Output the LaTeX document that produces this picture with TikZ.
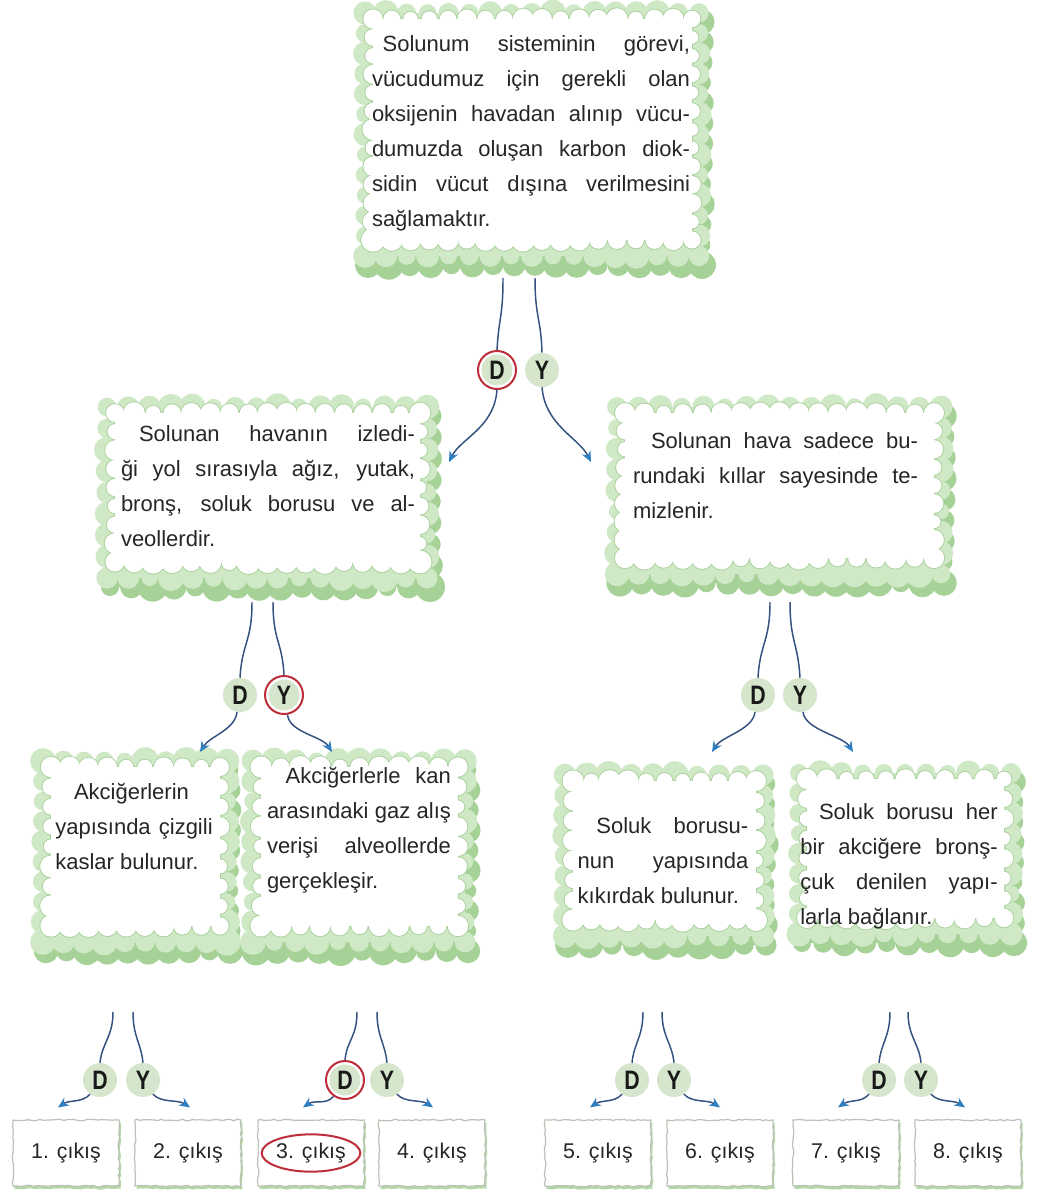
\documentclass[tikz,border=0pt]{standalone}
\usepackage{fontspec}
\setmainfont{Liberation Sans}
\newfontfamily\dyfont{Liberation Sans}[FakeStretch=0.8]
\usetikzlibrary{arrows.meta,calc,decorations.pathmorphing,shadows}
\setlength{\parindent}{0pt}
\definecolor{cgreen}{HTML}{A6D297}
\definecolor{clight}{HTML}{CFE8C5}
\definecolor{cline}{HTML}{A9D09B}
\definecolor{dyfill}{HTML}{D5E6CC}
\definecolor{ringred}{HTML}{BE2E3A}
\definecolor{conn}{HTML}{33507F}
\definecolor{tipblue}{HTML}{2E7EC2}
\definecolor{txtc}{HTML}{262626}
\definecolor{boxline}{HTML}{B9C2B5}

\newlength\tw
\newcommand\Js[1]{\makebox[\tw][s]{#1}}
\newcommand\Jl[1]{\makebox[\tw][l]{#1}}
\newcommand\setw[1]{\global\tw=#1\relax}

% white scalloped inner region, drawn with given path options
\newcommand\wbumps[1]{%
  \pgfmathsetseed{\cseed}%
  \path[#1] (\cwA,\cwB) rectangle (\cwC,\cwD);
  \pgfmathtruncatemacro\cmx{max(2,round((\cwC-\cwA)/19))}%
  \pgfmathtruncatemacro\cmy{max(2,round((\cwD-\cwB)/19))}%
  \foreach \i in {0,...,\cmx}{%
    \pgfmathsetmacro\cxx{\cwA+\i*(\cwC-\cwA)/\cmx}%
    \pgfmathsetmacro\crr{0.75*(7+4*rnd)}%
    \pgfmathsetmacro\crs{0.75*(8+4*rnd)}%
    \path[#1] (\cxx,\cwB) circle[radius=\crr pt] (\cxx,\cwD) circle[radius=\crs pt];
  }
  \foreach \i in {0,...,\cmy}{%
    \pgfmathsetmacro\cyy{\cwB+\i*(\cwD-\cwB)/\cmy}%
    \pgfmathsetmacro\crr{0.75*(7+4*rnd)}%
    \pgfmathsetmacro\crs{0.75*(6+4*rnd)}%
    \path[#1] (\cwA,\cyy) circle[radius=\crr pt] (\cwC,\cyy) circle[radius=\crs pt];
  }
}

% puffy cloud frame in box x1 y1 x2 y2 (pixel units, y down), seed #5
\newcommand\puff[5]{%
  \def\cseed{#5}%
  \pgfmathsetmacro\clA{#1+9}\pgfmathsetmacro\clB{#2+9}%
  \pgfmathsetmacro\clC{#3-9}\pgfmathsetmacro\clD{#4-20}%
  \pgfmathsetmacro\cwA{#1+17}\pgfmathsetmacro\cwB{#2+15}%
  \pgfmathsetmacro\cwC{#3-16}\pgfmathsetmacro\cwD{#4-36}%
  \pgfmathtruncatemacro\cnx{max(2,round((\clC-\clA)/21))}%
  \pgfmathtruncatemacro\cny{max(2,round((\clD-\clB)/21))}%
  \pgfmathsetseed{#5}%
  % darker lower/right band
  \fill[cgreen] (\clA+3,\clB+9) rectangle (\clC+3,\clD+9);
  \foreach \i in {0,...,\cnx}{%
    \pgfmathsetmacro\cxx{\clA+\i*(\clC-\clA)/\cnx}%
    \pgfmathsetmacro\crr{0.75*(9+6*rnd)}%
    \fill[cgreen] (\cxx+3,\clD+9) circle[radius=\crr pt];
  }
  \foreach \i in {0,...,\cny}{%
    \pgfmathsetmacro\cyy{\clB+\i*(\clD-\clB)/\cny}%
    \pgfmathsetmacro\crr{0.75*(8+5*rnd)}%
    \fill[cgreen] (\clC+3,\cyy+9) circle[radius=\crr pt];
  }
  % light band
  \fill[clight] (\clA,\clB) rectangle (\clC,\clD);
  \foreach \i in {0,...,\cnx}{%
    \pgfmathsetmacro\cxx{\clA+\i*(\clC-\clA)/\cnx}%
    \pgfmathsetmacro\crr{0.75*(8+6*rnd)}%
    \pgfmathsetmacro\crs{0.75*(8+6*rnd)}%
    \fill[clight] (\cxx,\clB) circle[radius=\crr pt] (\cxx,\clD) circle[radius=\crs pt];
  }
  \foreach \i in {0,...,\cny}{%
    \pgfmathsetmacro\cyy{\clB+\i*(\clD-\clB)/\cny}%
    \pgfmathsetmacro\crr{0.75*(8+5*rnd)}%
    \pgfmathsetmacro\crs{0.75*(8+5*rnd)}%
    \fill[clight] (\clA,\cyy) circle[radius=\crr pt] (\clC,\cyy) circle[radius=\crs pt];
  }
  % white inside with scalloped outline
  \wbumps{draw=cline,line width=1.3pt}
  \wbumps{fill=white}
}

\tikzset{
  cloudn/.style={inner sep=0pt, outer sep=0pt},
  txt/.style={inner sep=0pt, align=left, text=txtc,
    font=\fontsize{16.5}{26.25}\selectfont},
  dy/.style={circle, fill=dyfill, inner sep=0pt, minimum size=25.5pt,
    text=black!90, font=\dyfont\fontsize{20}{20}\selectfont\bfseries},
  chosen/.style={fill=white, draw=ringred, line width=1.5pt, minimum size=28.5pt,
    path picture={\fill[dyfill] (path picture bounding box.center) circle[radius=11.6pt];}},
  vline/.style={draw=conn, line width=1.1pt},
  arr/.style={draw=conn, line width=1.1pt,
    -{Stealth[length=8pt,width=7pt,color=tipblue]}},
  exitbox/.style={draw=boxline, line width=0.9pt, fill=white, inner sep=0pt,
    minimum width=79.5pt, minimum height=49.5pt, text=txtc,
    font=\fontsize{16}{18}\selectfont,
    decorate, decoration={random steps, segment length=2.6pt, amplitude=0.55pt},
    drop shadow={shadow xshift=1.2pt, shadow yshift=-2.2pt, fill=cgreen, opacity=0.85}},
}

\begin{document}
\pgfmathsetseed{7}
\begin{tikzpicture}[x=0.75pt, y=-0.75pt]
\useasboundingbox (0,0) rectangle (1036,1194);
\fill[white] (0,0) rectangle (1036,1194);

% ---------- cloud frames ----------
\puff{356}{4}{708}{276}{11}
\puff{98}{398}{436}{598}{23}
\puff{608}{398}{950}{594}{37}
\puff{34}{752}{236}{962}{41}
\puff{244}{752}{474}{962}{53}
\puff{556}{766}{772}{956}{67}
\puff{790}{764}{1020}{954}{79}
\pgfmathsetseed{7}

% ---------- cloud nodes ----------
\node[cloudn, minimum width=264pt, minimum height=204pt] (top) at (532,140) {};
\node[cloudn, minimum width=253.5pt, minimum height=150pt] (L) at (267,498) {};
\node[cloudn, minimum width=256.5pt, minimum height=147pt] (R) at (779,496) {};
\node[cloudn, minimum width=151.5pt, minimum height=157.5pt] (C1) at (135,857) {};
\node[cloudn, minimum width=172.5pt, minimum height=157.5pt] (C2) at (359,857) {};
\node[cloudn, minimum width=162pt, minimum height=142.5pt] (C3) at (664,861) {};
\node[cloudn, minimum width=172.5pt, minimum height=142.5pt] (C4) at (905,859) {};

% ---------- texts ----------
\node[txt] (ttop) at (531,133) {\setw{238.5pt}%
\Js{\hspace*{8pt}Solunum sisteminin görevi,}\\
\Js{vücudumuz için gerekli olan}\\
\Js{oksijenin havadan alınıp vücu-}\\
\Js{dumuzda oluşan karbon diok-}\\
\Js{sidin vücut dışına verilmesini}\\
\Jl{sağlamaktır.}};

\node[txt] (tL) at (268,486) {\setw{220.5pt}%
\Js{\hspace*{13.5pt}Solunan havanın izledi-}\\
\Js{ği yol sırasıyla ağız, yutak,}\\
\Js{bronş, soluk borusu ve al-}\\
\Jl{veollerdir.}};

\node[txt] (tR) at (775.5,476) {\setw{213.75pt}%
\Js{\hspace*{13.5pt}Solunan hava sadece bu-}\\
\Js{rundaki kıllar sayesinde te-}\\
\Jl{mizlenir.}};

\node[txt] (tC1) at (134,826) {\setw{118pt}%
\Jl{\hspace*{14pt}Akciğerlerin}\\
\Js{yapısında çizgili}\\
\Jl{kaslar bulunur.}};

\node[txt] (tC2) at (359,830.5) {\setw{138pt}%
\Js{\hspace*{14pt}Akciğerlerle kan}\\
\Js{arasındaki gaz alış}\\
\Js{verişi alveollerde}\\
\Jl{gerçekleşir.}};

\node[txt] (tC3) at (663,861) {\setw{128pt}%
\Js{\hspace*{14pt}Soluk borusu-}\\
\Js{nun yapısında}\\
\Jl{kıkırdak bulunur.}};

\node[txt] (tC4) at (899,866) {\setw{148pt}%
\Js{\hspace*{14pt}Soluk borusu her}\\
\Js{bir akciğere bronş-}\\
\Js{çuk denilen yapı-}\\
\Jl{larla bağlanır.}};

% ---------- D / Y markers ----------
\node[dy, chosen] (d1) at (497,370) {D};
\node[dy] (y1) at (542,370) {Y};
\node[dy] (d2) at (240,695) {D};
\node[dy, chosen] (y2) at (284,695) {Y};
\node[dy] (d3) at (758,695) {D};
\node[dy] (y3) at (800,695) {Y};
\node[dy] (d4) at (100,1080) {D};
\node[dy] (y4) at (143,1080) {Y};
\node[dy, chosen] (d5) at (345,1080) {D};
\node[dy] (y5) at (387,1080) {Y};
\node[dy] (d6) at (632,1080) {D};
\node[dy] (y6) at (674,1080) {Y};
\node[dy] (d7) at (879,1080) {D};
\node[dy] (y7) at (921,1080) {Y};

% ---------- exit boxes ----------
\node[exitbox] (b1) at (66,1153) {1. çıkış};
\node[exitbox] (b2) at (188,1153) {2. çıkış};
\node[exitbox] (b3) at (311,1153) {3. çıkış};
\node[exitbox] (b4) at (432,1153) {4. çıkış};
\node[exitbox] (b5) at (598,1153) {5. çıkış};
\node[exitbox] (b6) at (720,1153) {6. çıkış};
\node[exitbox] (b7) at (846,1153) {7. çıkış};
\node[exitbox] (b8) at (968,1153) {8. çıkış};
\draw[ringred, line width=1.5pt] (b3.center) ellipse[x radius=37pt, y radius=14pt];

% ---------- arrow end points ----------
\coordinate (t1) at (449,462);
\coordinate (t2) at (591,462);
\coordinate (t3) at (200,752);
\coordinate (t4) at (332,752);
\coordinate (t5) at (712,752);
\coordinate (t6) at (853,752);

% ---------- connectors: level 1 ----------
\draw[vline] ($(top.south)+(-29,2)$) .. controls +(0,40) and +(2,-35) .. (d1.north);
\draw[vline] ($(top.south)+(3,2)$) .. controls +(0,40) and +(-1,-35) .. (y1.north);
\draw[arr] (d1.south) .. controls +(-3,38) and +(12,-24) .. (t1);
\draw[arr] (y1.south) .. controls +(3,38) and +(-12,-24) .. (t2);

% ---------- level 2 ----------
\draw[vline] ($(L.south)+(-15,4)$) .. controls +(0,40) and +(2,-35) .. (d2.north);
\draw[vline] ($(L.south)+(6,4)$) .. controls +(0,40) and +(-2,-35) .. (y2.north);
\draw[arr] (d2.-100) .. controls +(-2,18) and +(10,-16) .. (t3);
\draw[arr] (y2.-80) .. controls +(2,18) and +(-10,-16) .. (t4);
\draw[vline] ($(R.south)+(-9,8)$) .. controls +(0,40) and +(2,-35) .. (d3.north);
\draw[vline] ($(R.south)+(11,8)$) .. controls +(0,40) and +(-2,-35) .. (y3.north);
\draw[arr] (d3.-100) .. controls +(-2,18) and +(10,-16) .. (t5);
\draw[arr] (y3.-80) .. controls +(2,18) and +(-10,-16) .. (t6);

% ---------- level 3 ----------
\draw[vline] ($(C1.south)+(-22,50)$) .. controls +(0,25) and +(2,-20) .. (d4.north);
\draw[vline] ($(C1.south)+(-2,50)$) .. controls +(0,25) and +(-2,-20) .. (y4.north);
\draw[arr] (d4.-125) .. controls +(-8,9) and +(12,-8) .. ($(b1.north)+(-8,-12)$);
\draw[arr] (y4.-55) .. controls +(8,9) and +(-12,-8) .. ($(b2.north)+(2,-12)$);
\draw[vline] ($(C2.south)+(-2,50)$) .. controls +(0,25) and +(2,-20) .. (d5.north);
\draw[vline] ($(C2.south)+(18,50)$) .. controls +(0,25) and +(-2,-20) .. (y5.north);
\draw[arr] (d5.-125) .. controls +(-8,9) and +(12,-8) .. ($(b3.north)+(-8,-12)$);
\draw[arr] (y5.-55) .. controls +(8,9) and +(-12,-8) .. ($(b4.north)+(1,-12)$);
\draw[vline] ($(C3.south)+(-21,56)$) .. controls +(0,25) and +(2,-20) .. (d6.north);
\draw[vline] ($(C3.south)+(-2,56)$) .. controls +(0,25) and +(-2,-20) .. (y6.north);
\draw[arr] (d6.-125) .. controls +(-8,9) and +(12,-8) .. ($(b5.north)+(-8,-12)$);
\draw[arr] (y6.-55) .. controls +(8,9) and +(-12,-8) .. ($(b6.north)+(0,-12)$);
\draw[vline] ($(C4.south)+(-15,58)$) .. controls +(0,25) and +(2,-20) .. (d7.north);
\draw[vline] ($(C4.south)+(3,58)$) .. controls +(0,25) and +(-2,-20) .. (y7.north);
\draw[arr] (d7.-125) .. controls +(-8,9) and +(12,-8) .. ($(b7.north)+(-8,-12)$);
\draw[arr] (y7.-55) .. controls +(8,9) and +(-12,-8) .. ($(b8.north)+(-3,-12)$);
\end{tikzpicture}
\end{document}
